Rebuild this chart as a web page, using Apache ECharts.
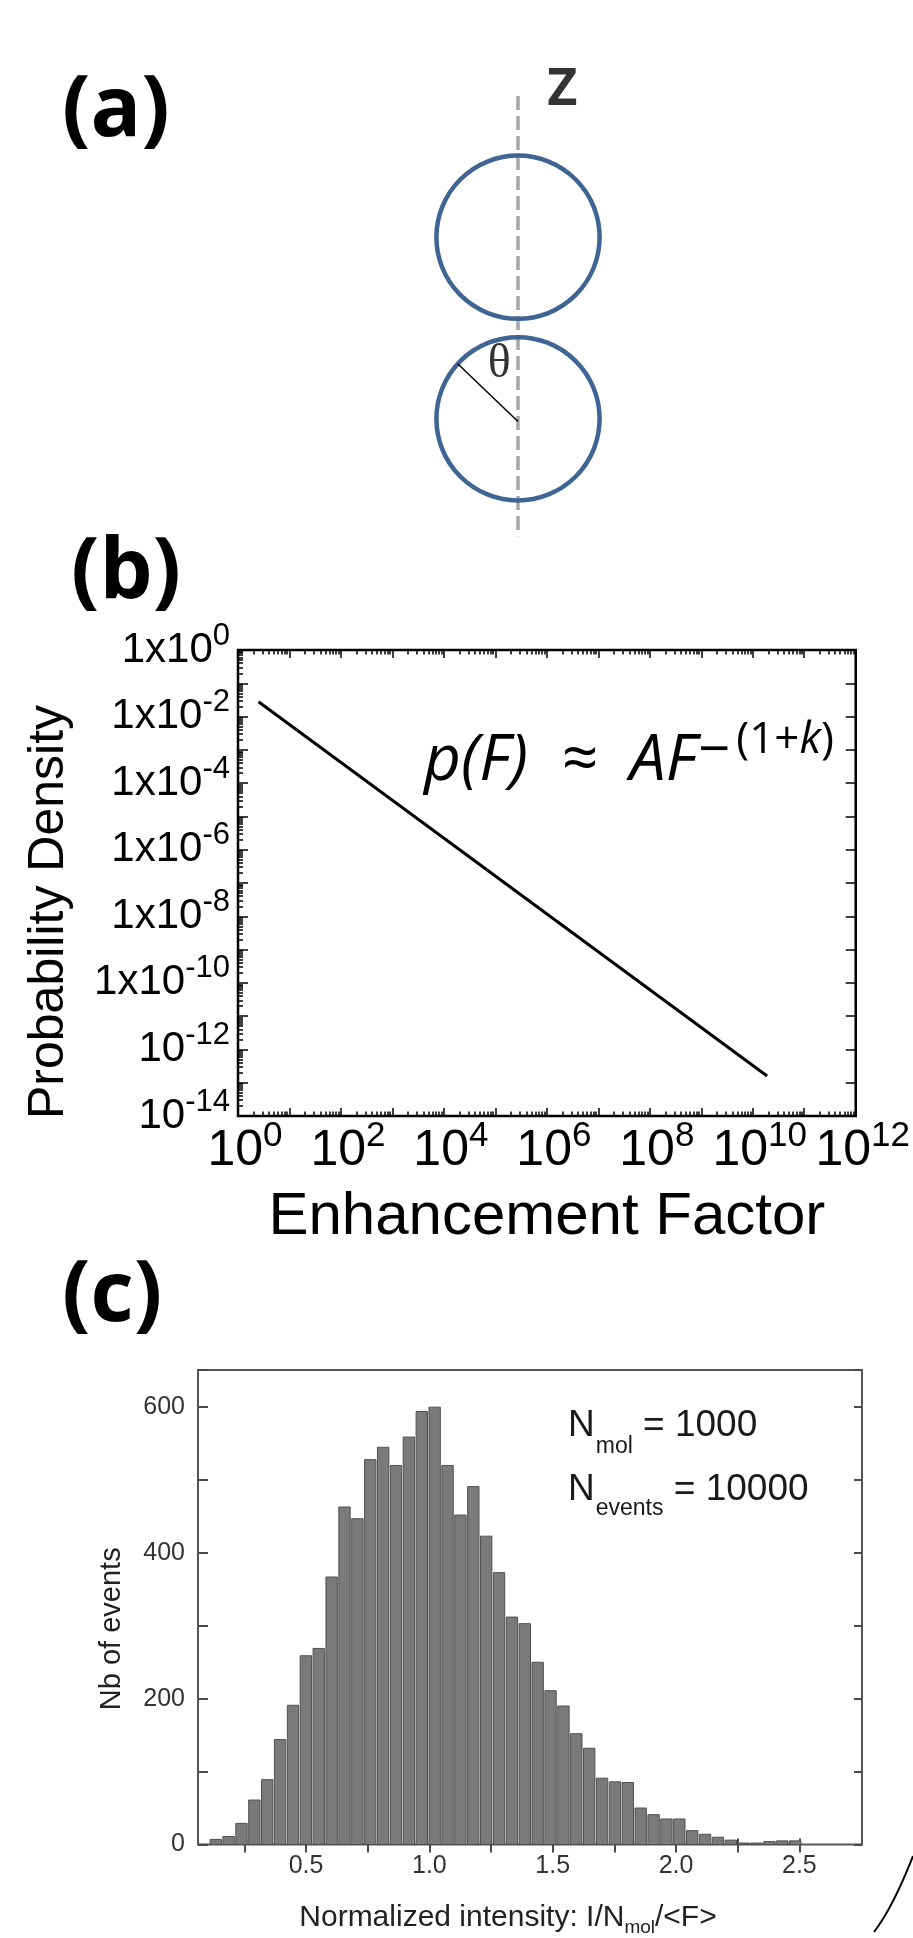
<!DOCTYPE html>
<html>
<head>
<meta charset="utf-8">
<title>Figure (a)(b)(c)</title>
<script src="https://cdn.jsdelivr.net/npm/echarts@6/dist/echarts.min.js"></script>
<style>
  html, body { margin: 0; padding: 0; background: #fff; }
  #chart { width: 913px; height: 1938px; }
</style>
</head>
<body>
<div id="chart"></div>
<script>
// ---- (a) schematic, units = sphere radius scale ----
const sphereCenters = [[0, 1.068], [0, -1.068]];
const sphereRadius = 0.96;
const zAxisLine = [[0, 2.73], [0, -2.45]];
const thetaLine = [[0, -1.1], [-0.71, -0.42]];
const diagramLabels = [
  { name: 'Z', value: [0.52, 2.8] },
  { name: 'θ', value: [-0.22, -0.43] }
];

// ---- (b) power law p(F) ----
const powerLawF = [2.5, 1.9e10];
const powerLawP = [0.028, 1.6e-13];
const xLabelExps = [0, 2, 4, 6, 8, 10, 12];
const yLabelExps = [0, -2, -4, -6, -8, -10, -12, -14];

// ---- (c) histogram ----
const binStart = 0.108;
const binWidth = 0.0522;
const eventCounts = [7, 11, 29, 61, 89, 144, 191, 259, 269, 367, 463, 447, 528, 545, 520, 559, 594, 600,
  520, 452, 491, 423, 373, 312, 303, 250, 211, 190, 152, 132, 91, 86, 85, 50, 41, 35, 35, 19, 14, 10,
  6, 2, 2, 4, 5, 5];
const xTicksC = [0.25, 0.5, 0.75, 1.0, 1.25, 1.5, 1.75, 2.0, 2.25, 2.5];
const xLabelsC = [0.5, 1.0, 1.5, 2.0, 2.5];
const yLabelsC = [0, 200, 400, 600];

const SANS = "'Liberation Sans', Arial, sans-serif";
const BOLD = "'Open Sans', 'DejaVu Sans', sans-serif";

// log-axis tick positions (decades and 2..9 minor ticks)
const xMajor = [], xMinor = [], yMajor = [], yMinor = [];
for (let e = 0; e <= 12; e++) xMajor.push(Math.pow(10, e));
for (let e = 0; e < 12; e++) for (let k = 2; k <= 9; k++) xMinor.push(k * Math.pow(10, e));
for (let e = -14; e <= 0; e++) yMajor.push(Math.pow(10, e));
for (let e = -14; e < 0; e++) for (let k = 2; k <= 9; k++) yMinor.push(k * Math.pow(10, e));

const chart = echarts.init(document.getElementById('chart'));

function hiddenAxis(grid, min, max) {
  return { type: 'value', gridIndex: grid, min: min, max: max, show: false };
}
function logAxis(grid, pos, min, max, ticks, len) {
  return {
    type: 'log', gridIndex: grid, position: pos, min: min, max: max,
    axisLine: { show: false }, splitLine: { show: false }, axisLabel: { show: false },
    axisTick: { show: true, inside: true, length: len, customValues: ticks, lineStyle: { color: '#000', width: 1.5 } }
  };
}

const xB = logAxis(1, 'bottom', 1, 1e12, xMajor, 8);
xB.axisLabel = {
  show: true, customValues: xLabelExps.map(e => Math.pow(10, e)), margin: 7,
  padding: [0, 0, 0, 14],
  formatter: v => '{m|10}{s|' + Math.round(Math.log10(v)) + '}',
  rich: {
    m: { fontFamily: SANS, fontSize: 50, lineHeight: 56, color: '#000' },
    s: { fontFamily: SANS, fontSize: 35, lineHeight: 38, padding: [0, 0, 30, 0], color: '#000' }
  }
};
xB.name = 'Enhancement Factor';
xB.nameLocation = 'middle';
xB.nameGap = 66;
xB.nameTextStyle = { fontFamily: SANS, fontSize: 60, lineHeight: 66, color: '#000' };

const yB = logAxis(1, 'left', 1e-14, 1, yMajor, 10);
yB.axisLabel = {
  show: true, customValues: yLabelExps.map(e => Math.pow(10, e)), margin: 8,
  formatter: v => {
    const e = Math.round(Math.log10(v));
    return (e >= -10 ? '{m|1x10}' : '{m|10}') + '{s|' + e + '}';
  },
  rich: {
    m: { fontFamily: SANS, fontSize: 42, lineHeight: 50, color: '#000' },
    s: { fontFamily: SANS, fontSize: 31, lineHeight: 34, padding: [0, 0, 28, 0], color: '#000' }
  }
};
yB.name = 'Probability Density';
yB.nameLocation = 'middle';
yB.nameGap = 161;
yB.nameTextStyle = { fontFamily: SANS, fontSize: 50, lineHeight: 56, color: '#000', padding: [0, 58, 0, 0] };

const cTick = { color: '#4a4a4a', width: 2 };

const option = {
  animation: false,
  backgroundColor: '#fff',
  title: [
    { text: '(a)', left: 62, top: 70, padding: 0, textStyle: { fontFamily: BOLD, fontWeight: 'bold', fontSize: 84, lineHeight: 84, color: '#000' } },
    { text: '(b)', left: 71, top: 532, padding: 0, textStyle: { fontFamily: BOLD, fontWeight: 'bold', fontSize: 84, lineHeight: 84, color: '#000' } },
    { text: '(c)', left: 62, top: 1255, padding: 0, textStyle: { fontFamily: BOLD, fontWeight: 'bold', fontSize: 84, lineHeight: 84, color: '#000' } }
  ],
  grid: [
    { left: 263, top: 73, width: 510, height: 510, show: false },
    { left: 238, top: 650, width: 631, height: 466, show: true, borderColor: '#000', borderWidth: 2.5, backgroundColor: 'transparent' },
    { left: 198, top: 1370, width: 664, height: 485, show: true, borderColor: '#555', borderWidth: 2, backgroundColor: 'transparent' }
  ],
  xAxis: [
    hiddenAxis(0, -3, 3),
    xB,
    logAxis(1, 'bottom', 1, 1e12, xMinor, 4.5),
    logAxis(1, 'top', 1, 1e12, xMajor, 8),
    logAxis(1, 'top', 1, 1e12, xMinor, 4.5),
    {
      type: 'value', gridIndex: 2, position: 'bottom', min: 0.0622, max: 2.7538,
      axisLine: { show: false }, splitLine: { show: false },
      axisTick: { show: true, inside: true, length: 6, customValues: xTicksC, lineStyle: cTick },
      axisLabel: { show: true, customValues: xLabelsC, margin: 8, formatter: v => v.toFixed(1),
        fontFamily: SANS, fontSize: 25, lineHeight: 28, color: '#333' },
      name: '{t|Normalized intensity: I/N}{sub|mol}{t|/<F>}',
      nameLocation: 'middle', nameGap: 56,
      nameTextStyle: { padding: [0, 44, 0, 0], rich: {
        t: { fontFamily: SANS, fontSize: 30, lineHeight: 34, color: '#222' },
        sub: { fontFamily: SANS, fontSize: 19, lineHeight: 20, padding: [20, 0, 0, 0], color: '#222' }
      } }
    },
    {
      type: 'value', gridIndex: 2, position: 'top', min: 0.0622, max: 2.7538,
      axisLine: { show: false }, splitLine: { show: false }, axisLabel: { show: false },
      axisTick: { show: true, inside: true, length: 8, customValues: xTicksC, lineStyle: cTick }
    }
  ],
  yAxis: [
    hiddenAxis(0, -3, 3),
    yB,
    logAxis(1, 'left', 1e-14, 1, yMinor, 5),
    logAxis(1, 'right', 1e-14, 1, yMajor, 10),
    {
      type: 'value', gridIndex: 2, position: 'left', min: 0, max: 651, interval: 100,
      axisLine: { show: false }, splitLine: { show: false },
      axisTick: { show: true, inside: true, length: 10, lineStyle: cTick },
      axisLabel: { show: true, customValues: yLabelsC, margin: 13, fontFamily: SANS, fontSize: 25, color: '#333' },
      name: 'Nb of events', nameLocation: 'middle', nameGap: 70,
      nameTextStyle: { fontFamily: SANS, fontSize: 29, lineHeight: 32, color: '#222', padding: [0, 43, 0, 0] }
    },
    {
      type: 'value', gridIndex: 2, position: 'right', min: 0, max: 651, interval: 100,
      axisLine: { show: false }, splitLine: { show: false }, axisLabel: { show: false },
      axisTick: { show: true, inside: true, length: 8, lineStyle: cTick }
    }
  ],
  series: [
    {
      name: 'spheres', type: 'custom', xAxisIndex: 0, yAxisIndex: 0, silent: true,
      data: sphereCenters,
      renderItem: (params, api) => {
        const c = api.coord([api.value(0), api.value(1)]);
        const r = api.size([sphereRadius, 0])[0];
        return { type: 'circle', shape: { cx: c[0], cy: c[1], r: r },
          style: { fill: 'none', stroke: '#3f6594', lineWidth: 4.5 } };
      }
    },
    {
      name: 'z axis', type: 'line', xAxisIndex: 0, yAxisIndex: 0, data: zAxisLine, symbol: 'none', silent: true,
      lineStyle: { color: '#a6a6a6', width: 3.5, type: [14, 6] }, z: 1
    },
    {
      name: 'theta', type: 'line', xAxisIndex: 0, yAxisIndex: 0, data: thetaLine, symbol: 'none', silent: true,
      lineStyle: { color: '#000', width: 1.5 }
    },
    {
      name: 'labels', type: 'scatter', xAxisIndex: 0, yAxisIndex: 0, symbolSize: 0, silent: true,
      data: diagramLabels.map(d => ({
        name: d.name, value: d.value,
        label: d.name === 'Z'
          ? { fontFamily: BOLD, fontWeight: 'bold', fontSize: 52, color: '#000' }
          : { fontFamily: "'Liberation Serif', 'DejaVu Serif', serif", fontSize: 48, color: '#000' }
      })),
      label: { show: true, position: 'inside', formatter: '{b}' }
    },
    {
      name: 'p(F)', type: 'line', xAxisIndex: 1, yAxisIndex: 1, symbol: 'none', silent: true,
      data: powerLawF.map((f, i) => [f, powerLawP[i]]),
      lineStyle: { color: '#000', width: 3 }
    },
    {
      name: 'events', type: 'custom', xAxisIndex: 5, yAxisIndex: 4, silent: true,
      data: eventCounts.map((c, i) => [binStart + i * binWidth, binStart + (i + 1) * binWidth, c]),
      renderItem: (params, api) => {
        const p0 = api.coord([api.value(0), api.value(2)]);
        const p1 = api.coord([api.value(1), 0]);
        return { type: 'rect',
          shape: { x: p0[0] + 0.75, y: p0[1], width: p1[0] - p0[0] - 1.5, height: p1[1] - p0[1] },
          style: { fill: '#7a7a7a', stroke: '#505050', lineWidth: 1 } };
      }
    }
  ],
  graphic: [
    {
      type: 'text', x: 424, y: 762, silent: true,
      style: {
        text: '{i|p(F)  ≈  AF}{m|−}{s|(1+}{k|k}{s|)}',
        verticalAlign: 'middle',
        rich: {
          i: { fontFamily: BOLD, fontStyle: 'italic', fontSize: 64, lineHeight: 68, fill: '#000' },
          m: { fontFamily: BOLD, fontSize: 56, lineHeight: 56, padding: [0, 6, 20, 2], fill: '#000' },
          s: { fontFamily: BOLD, fontSize: 44, lineHeight: 46, padding: [0, 0, 44, 0], fill: '#000' },
          k: { fontFamily: BOLD, fontStyle: 'italic', fontSize: 44, lineHeight: 46, padding: [0, 0, 44, 0], fill: '#000' }
        }
      }
    },
    {
      type: 'text', x: 568, y: 1426, silent: true,
      style: {
        text: '{n|N}{sub|mol}{n| = 1000}',
        verticalAlign: 'middle',
        rich: {
          n: { fontFamily: SANS, fontSize: 37, lineHeight: 40, fill: '#1a1a1a' },
          sub: { fontFamily: SANS, fontSize: 23, lineHeight: 24, padding: [42, 0, 0, 1], fill: '#1a1a1a' }
        }
      }
    },
    {
      type: 'text', x: 568, y: 1490, silent: true,
      style: {
        text: '{n|N}{sub|events}{n| = 10000}',
        verticalAlign: 'middle',
        rich: {
          n: { fontFamily: SANS, fontSize: 37, lineHeight: 40, fill: '#1a1a1a' },
          sub: { fontFamily: SANS, fontSize: 23, lineHeight: 24, padding: [38, 0, 0, 1], fill: '#1a1a1a' }
        }
      }
    },
    {
      type: 'bezierCurve', silent: true,
      shape: { x1: 874, y1: 1932, cpx1: 893, cpy1: 1907, x2: 913, y2: 1856 },
      style: { stroke: '#000', lineWidth: 2, fill: null }
    }
  ]
};

chart.setOption(option);
</script>
</body>
</html>
